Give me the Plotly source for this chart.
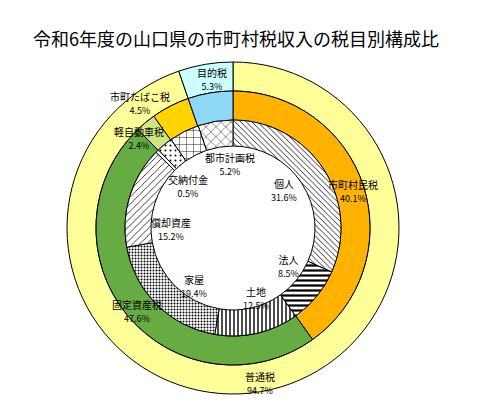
import plotly.graph_objects as go

# outer ring
outer_labels = ["普通税", "目的税"]
outer_values = [94.7, 5.3]

# middle ring
mid_labels = ["市町村民税", "固定資産税", "軽自動車税", "市町たばこ税", "目的税"]
mid_values = [40.1, 47.6, 2.4, 4.5, 5.3]

# inner ring
inner_labels = ["個人", "法人", "土地", "家屋", "償却資産", "交納付金",
                "軽自動車税", "市町たばこ税", "都市計画税"]
inner_values = [31.6, 8.5, 12.5, 19.4, 15.2, 0.5, 2.4, 4.5, 5.2]

# labels shown on the chart (name, value, centre position in screen px)
shown = [
    ("目的税", 5.3, 212, 79),
    ("市町たばこ税", 4.5, 140, 103),
    ("軽自動車税", 2.4, 139, 138),
    ("都市計画税", 5.2, 230, 164),
    ("交納付金", 0.5, 188, 186),
    ("個人", 31.6, 284, 190),
    ("市町村民税", 40.1, 353, 191),
    ("償却資産", 15.2, 171, 229),
    ("法人", 8.5, 288, 266),
    ("家屋", 19.4, 194, 286),
    ("土地", 12.5, 256, 298),
    ("固定資産税", 47.6, 137, 311),
    ("普通税", 94.7, 260, 383),
]

W, H = 500, 420
OFF = 8  # page body margin
cx, cy = 233 - OFF, 228 - OFF


def dom(r):
    return dict(x=[(cx - r) / W, (cx + r) / W], y=[1 - (cy + r) / H, 1 - (cy - r) / H])


fig = go.Figure()

fig.add_trace(go.Pie(
    labels=outer_labels, values=outer_values, domain=dom(166), hole=137 / 166,
    sort=False, direction="clockwise", textinfo="none", hoverinfo="label+percent",
    marker=dict(colors=["#FFFF99", "#CCFFFF"], line=dict(color="black", width=1)),
))

fig.add_trace(go.Pie(
    labels=mid_labels, values=mid_values, domain=dom(137), hole=108 / 137,
    sort=False, direction="clockwise", textinfo="none", hoverinfo="label+percent",
    marker=dict(colors=["#FFB300", "#66AC42", "#CFE57E", "#FFD400", "#8ED8F8"],
                line=dict(color="black", width=1)),
))

fig.add_trace(go.Pie(
    labels=inner_labels, values=inner_values, domain=dom(108), hole=82 / 108,
    sort=False, direction="clockwise", textinfo="none", hoverinfo="label+percent",
    marker=dict(
        colors=["white"] * len(inner_values),
        line=dict(color="black", width=1),
        pattern=dict(
            shape=["\\", "-", "|", ".", "/", "", ".", "+", "x"],
            fgcolor="black", bgcolor="white",
            size=[4, 5, 4, 3, 5, 6, 5, 7, 7],
            solidity=[0.2, 0.45, 0.35, 0.35, 0.15, 0.3, 0.12, 0.12, 0.12],
        ),
    ),
))

for name, val, x, y in shown:
    fig.add_annotation(
        x=(x - OFF) / W, y=1 - (y - OFF) / H, xref="paper", yref="paper",
        xanchor="center", yanchor="middle",
        text=f"{name}<br><span style='font-size:9px'>{val}%</span>",
        showarrow=False, font=dict(size=10, color="black"),
    )

fig.update_layout(
    width=W, height=H,
    margin=dict(l=0, r=0, t=0, b=0),
    paper_bgcolor="white", plot_bgcolor="white",
    showlegend=False,
    font=dict(family="Noto Sans CJK JP"),
    title=dict(text="令和6年度の山口県の市町村税収入の税目別構成比",
               x=(33 - OFF) / W, xanchor="left", y=1 - (40 - OFF) / H, yanchor="middle",
               font=dict(size=18, color="black")),
)

fig.write_html("out.html")
